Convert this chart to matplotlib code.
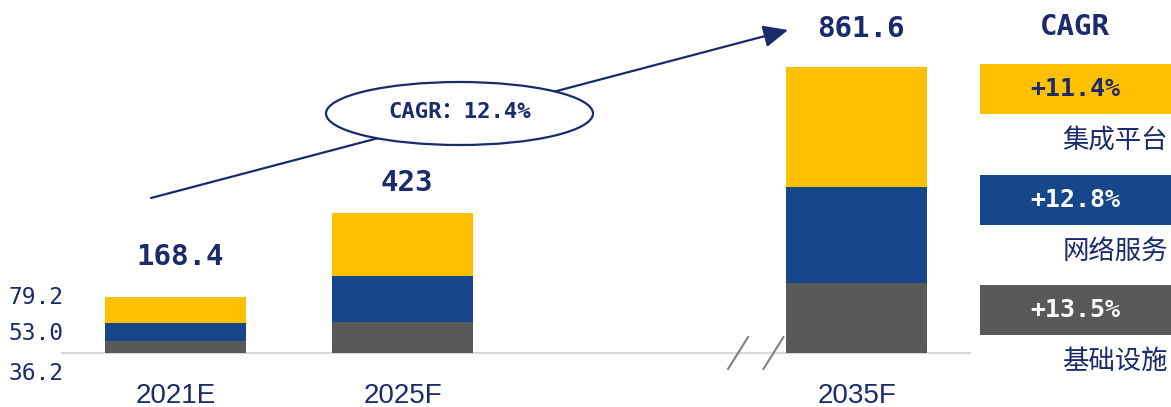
import matplotlib
matplotlib.use('Agg')
import matplotlib.pyplot as plt
from matplotlib.patches import Ellipse, Rectangle, FancyArrowPatch

# ---------------- data ----------------
categories = ['2021E', '2025F', '2035F']
infra = [36.2, 93.0, 210.0]       # 基础设施
network = [53.0, 139.0, 290.0]    # 网络服务
platform = [79.2, 191.0, 361.6]   # 集成平台
total_labels = ['168.4', '423', '861.6']
segment_names = ['集成平台', '网络服务', '基础设施']
segment_cagr = ['+11.4%', '+12.8%', '+13.5%']
base_labels = ['79.2', '53.0', '36.2']
overall_cagr = 'CAGR：12.4%'
header = 'CAGR'

# ---------------- style / layout ----------------
YELLOW = '#FFC000'
BLUE = '#16478B'
GRAY = '#5A5959'
NAVY = '#1B2A6B'
W, H = 1171, 407
NUMFONT = ['DejaVu Sans Mono', 'Noto Sans CJK SC']
CJK = ['Noto Sans CJK SC', 'DejaVu Sans']

x_pos = [0, 1, 3]
bar_w = 0.621

def fx(px):
    return px / W

def fy(py):
    return 1 - py / H

fig = plt.figure(figsize=(W / 100, H / 100), dpi=100)
ax = fig.add_axes([0, 0, 1, 1])
ax.set_xlim(-0.773, 4.385)
ax.set_ylim(-162.6, 1063)
ax.axis('off')

# baseline
ax.plot([-0.5, 3.5], [0, 0], color='#D9D9D9', lw=1.6, zorder=0)

# stacked bars
ax.bar(x_pos, infra, width=bar_w, color=GRAY, zorder=2)
bottom2 = list(infra)
ax.bar(x_pos, network, width=bar_w, bottom=bottom2, color=BLUE, zorder=2)
bottom3 = [a + b for a, b in zip(infra, network)]
ax.bar(x_pos, platform, width=bar_w, bottom=bottom3, color=YELLOW, zorder=2)
totals = [a + b + c for a, b, c in zip(infra, network, platform)]

# axis break marks
for bx in [2.478, 2.634]:
    ax.plot([bx - 0.044, bx + 0.044], [-48, 48], color='#808080', lw=1.5, zorder=3)

# category labels
for x, c in zip(x_pos, categories):
    ax.text(x, -128, c, ha='center', va='center', fontsize=20,
            family='Liberation Sans', color=NAVY)

# total labels
label_offsets_px = [40, 30, 38]
for x, t, lab, off in zip(x_pos, totals, total_labels, label_offsets_px):
    ax.annotate(lab, xy=(x, t), xytext=(3, off * 0.72), textcoords='offset points',
                ha='center', va='center', fontsize=21, fontweight='bold',
                family=NUMFONT, color=NAVY)

# left base labels
for lab, py in zip(base_labels, [297.5, 334, 374]):
    fig.text(fx(63), fy(py), lab, ha='right', va='center', fontsize=16.5,
             family=NUMFONT, color=NAVY)

# overall CAGR arrow + ellipse
arrow = FancyArrowPatch((fx(151), fy(198)), (fx(788), fy(30)),
                        transform=fig.transFigure,
                        arrowstyle='-|>,head_length=1.0,head_width=0.45',
                        mutation_scale=15, color=NAVY, lw=1.6,
                        shrinkA=0, shrinkB=0, zorder=4)
fig.patches.append(arrow)
ell = Ellipse((fx(459.5), fy(113.5)), 267 / W, 63 / H, transform=fig.transFigure,
              facecolor='white', edgecolor=NAVY, lw=1.6, zorder=5)
fig.patches.append(ell)
fig.text(fx(460), fy(112), overall_cagr, ha='center', va='center', fontsize=16,
         fontweight='bold', family=NUMFONT, color=NAVY, zorder=6)

# right-side legend
fig.text(fx(1075), fy(27), header, ha='center', va='center', fontsize=21,
         fontweight='bold', family=NUMFONT, color=NAVY)
box_colors = [YELLOW, BLUE, GRAY]
box_text_colors = [NAVY, 'white', 'white']
box_tops = [64, 175, 285]
for name, cg, col, tcol, top in zip(segment_names, segment_cagr, box_colors,
                                    box_text_colors, box_tops):
    rect = Rectangle((fx(980), fy(top + 50)), 191 / W, 50 / H,
                     transform=fig.transFigure, facecolor=col, edgecolor='none')
    fig.patches.append(rect)
    fig.text(fx(1075), fy(top + 25), cg, ha='center', va='center', fontsize=18,
             fontweight='bold', family=NUMFONT, color=tcol)
    fig.text(fx(1168), fy(top + 76), name, ha='right', va='center', fontsize=19,
             family=CJK, color=NAVY)

fig.savefig('out.png', dpi=100)
